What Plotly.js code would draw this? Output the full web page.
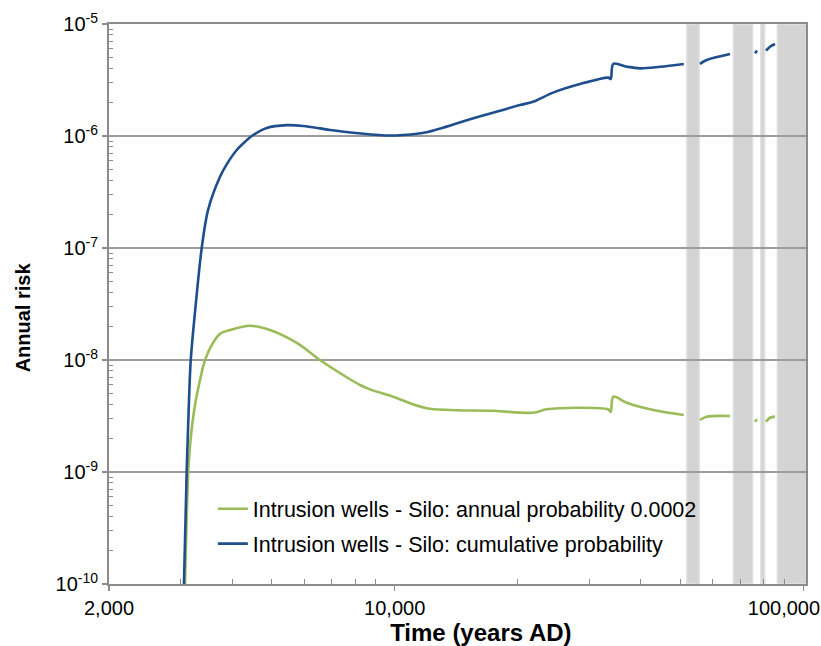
<!DOCTYPE html>
<html>
<head>
<meta charset="utf-8">
<script src="https://cdn.plot.ly/plotly-3.0.1.min.js"></script>
<style>html,body{margin:0;padding:0;background:#fff;}#chart{width:821px;height:646px;}</style>
</head>
<body>
<div id="chart"></div>
<script>
// Cumulative probability series (blue)
var cumYears = [3051, 3098, 3133, 3170, 3265, 3372, 3494, 3738, 3895, 4108, 4304, 4470, 4864, 5443, 5977, 6566, 6947, 7909, 9561, 10480, 11978, 15290, 18100, 20260, 21800, 24410, 28410, 33330, 33780, 34280, 36970, 39850, 44580, 51000, null, 55850, 58000, 66150, null, 76170, 77030, null, 81020, 82870, 85230];
var cumRisk = [1.0e-10, 1.0e-9, 3.58e-9, 1.0e-8, 3.30e-8, 1.0e-7, 2.18e-7, 4.33e-7, 5.70e-7, 7.5e-7, 8.89e-7, 1.0e-6, 1.18e-6, 1.25e-6, 1.23e-6, 1.17e-6, 1.13e-6, 1.07e-6, 1.01e-6, 1.02e-6, 1.08e-6, 1.41e-6, 1.68e-6, 1.89e-6, 2.02e-6, 2.44e-6, 2.91e-6, 3.32e-6, 3.23e-6, 4.40e-6, 4.16e-6, 4.02e-6, 4.15e-6, 4.40e-6, null, 4.40e-6, 4.77e-6, 5.40e-6, null, 5.48e-6, 5.78e-6, null, 5.78e-6, 6.27e-6, 6.63e-6];

// Annual probability series (green)
var annYears = [3069, 3126, 3166, 3247, 3340, 3435, 3593, 3738, 3955, 4427, 4954, 5759, 6566, 6947, 8226, 8701, 9906, 11978, 17430, 21800, 23550, 27880, 33270, 33780, 34280, 36970, 42950, 51000, null, 55850, 58000, 66150, null, 76170, 77030, null, 81020, 82870, 85230];
var annRisk = [1.0e-10, 1.0e-9, 1.93e-9, 3.96e-9, 6.63e-9, 1.0e-8, 1.42e-8, 1.71e-8, 1.85e-8, 2.02e-8, 1.85e-8, 1.42e-8, 1.0e-8, 8.7e-9, 5.98e-9, 5.47e-9, 4.70e-9, 3.71e-9, 3.52e-9, 3.38e-9, 3.63e-9, 3.75e-9, 3.63e-9, 3.45e-9, 4.70e-9, 4.16e-9, 3.58e-9, 3.23e-9, null, 2.91e-9, 3.12e-9, 3.16e-9, null, 2.81e-9, 2.96e-9, null, 2.81e-9, 3.05e-9, 3.12e-9];

// Grey shaded periods (years AD)
var bandStart = [51830, 67390, 78640, 86340];
var bandEnd = [55630, 75170, 80430, 120000];

var seriesNames = ["Intrusion wells - Silo: annual probability 0.0002", "Intrusion wells - Silo: cumulative probability"];
var NB = "\u00a0";
var xTickVals = [2000, 10000, 100000];
var xTickText = ["2,000", "10,000", "100,000" + NB.repeat(7)];
var xMinorVals = [3000, 4000, 5000, 6000, 7000, 8000, 9000, 20000, 30000, 40000, 50000, 60000, 70000, 80000, 90000];
var yTickVals = [1e-10, 1e-9, 1e-8, 1e-7, 1e-6, 1e-5];
var yTickText = ["10<sup>-10</sup>", "10<sup>-9</sup>", "10<sup>-8</sup>", "10<sup>-7</sup>", "10<sup>-6</sup>", "10<sup>-5</sup>"];
var yMinorVals = [];
[-10, -9, -8, -7, -6].forEach(function (e) {
  for (var k = 2; k <= 9; k++) yMinorVals.push(k * Math.pow(10, e));
});
var xTitle = "Time (years AD)";
var yTitle = "Annual risk";

var FONT = "Liberation Sans, Arial, sans-serif";

var traces = [
  {x: annYears, y: annRisk, name: seriesNames[0], type: "scatter", mode: "lines",
   line: {color: "#9bbb59", width: 2.6, shape: "spline", smoothing: 0.9}, connectgaps: false, legendgroup: "a"},
  {x: cumYears, y: cumRisk, name: seriesNames[1], type: "scatter", mode: "lines",
   line: {color: "#1f4e8c", width: 2.6, shape: "spline", smoothing: 0.9}, connectgaps: false, legendgroup: "b"}
];

var shapes = bandStart.map(function (s, i) {
  return {type: "rect", xref: "x", yref: "paper", x0: s, x1: bandEnd[i], y0: 0, y1: 1,
          fillcolor: "#d4d4d4", line: {color: "#e2e2e2", width: 1.5}, layer: "below"};
});

var layout = {
  width: 821, height: 646,
  margin: {l: 109, r: 15, t: 24, b: 62},
  paper_bgcolor: "#fff", plot_bgcolor: "#fff",
  font: {family: FONT, size: 20, color: "#000"},
  showlegend: true,
  legend: {x: 0.149, y: 0.171, xanchor: "left", yanchor: "top", bgcolor: "rgba(0,0,0,0)",
           font: {family: FONT, size: 21.5, color: "#000"}, tracegroupgap: 4, traceorder: "grouped"},
  xaxis: {
    type: "log", range: [Math.log10(2000), Math.log10(101500)],
    tickmode: "array", tickvals: xTickVals, ticktext: xTickText,
    ticks: "outside", ticklen: 5, tickcolor: "#8c8c8c", tickwidth: 1.5,
    showgrid: false, zeroline: false,
    showline: true, linecolor: "#8c8c8c", linewidth: 2, mirror: true,
    tickfont: {family: FONT, size: 20}, ticklabeloverflow: "allow",
    minor: {tickmode: "array", tickvals: xMinorVals, ticks: "inside", ticklen: 5, tickcolor: "#8c8c8c", tickwidth: 1, showgrid: false},
    title: {text: "<b>" + NB.repeat(7) + xTitle + "</b>", font: {family: FONT, size: 24}, standoff: 3}
  },
  yaxis: {
    type: "log", range: [-10, -5],
    tickmode: "array", tickvals: yTickVals, ticktext: yTickText,
    ticks: "outside", ticklen: 5, tickcolor: "#8c8c8c", tickwidth: 1.5,
    showgrid: true, gridcolor: "#9c9c9c", gridwidth: 1.5, zeroline: false,
    showline: true, linecolor: "#8c8c8c", linewidth: 2, mirror: true,
    tickfont: {family: FONT, size: 20},
    minor: {tickmode: "array", tickvals: yMinorVals, ticks: "inside", ticklen: 4, tickcolor: "#8c8c8c", tickwidth: 1, showgrid: false},
    title: {text: "<b>" + yTitle + NB.repeat(5) + "</b>", font: {family: FONT, size: 20}, standoff: 20}
  },
  shapes: shapes
};

Plotly.newPlot("chart", traces, layout, {displayModeBar: false, staticPlot: true});
</script>
</body>
</html>
